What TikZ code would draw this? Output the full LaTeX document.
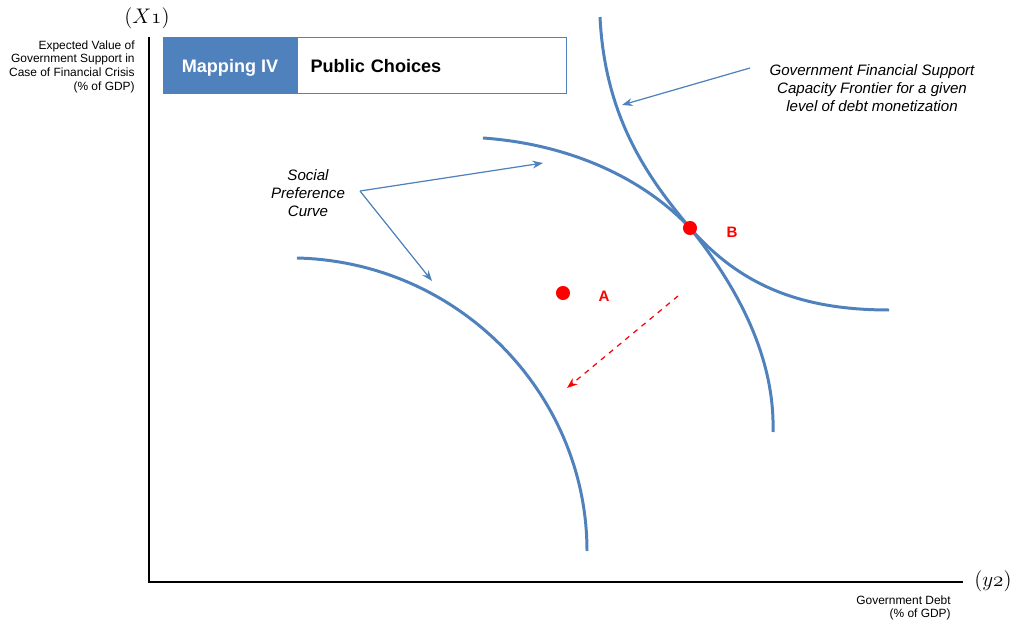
\documentclass[tikz,border=0pt]{standalone}
\usepackage{fontspec}
\setsansfont{Liberation Sans}
\usetikzlibrary{arrows.meta}
\definecolor{curveblue}{RGB}{79,129,189}

\begin{document}
\begin{tikzpicture}[x=0.02cm,y=-0.02cm,
  curve/.style={curveblue,line width=1.7pt},
  pointer/.style={curveblue,line width=0.7pt,-{Stealth[length=6pt,width=4.5pt]}},
  dot/.style={circle,fill=red,inner sep=0pt,minimum size=8pt},
  dotlabel/.style={text=red,font=\sffamily\bfseries\fontsize{8.6}{10}\selectfont},
  note/.style={font=\sffamily\itshape\fontsize{8.6}{10.2}\selectfont,align=center},
  axislabel/.style={font=\sffamily\fontsize{6.8}{7.9}\selectfont,align=right,inner sep=0pt},
  varlabel/.style={font=\fontsize{12.5}{14}\selectfont}]

\useasboundingbox (0,0) rectangle (1017,624);

% axes
\coordinate (ytop) at (149,37);
\coordinate (O) at (149,582);
\coordinate (xend) at (963,582);
\draw[line width=1.3pt] (ytop) -- (O) -- (xend);

\node[varlabel] (x1) at (147,18) {$(\mathnormal{X}\mathnormal{1})$};
\node[varlabel] (y2) at (993,581) {$(\mathnormal{y}\mathnormal{2})$};

\node[axislabel,anchor=north east] (ylab) at (135,40)
  {Expected Value of\\Government Support in\\Case of Financial Crisis\\(\% of GDP)};
\node[axislabel,anchor=north east] (xlab) at (951,595) {Government Debt\\(\% of GDP)};

% title box
\node[fill=curveblue,draw=curveblue,line width=0.6pt,anchor=north west,
  minimum width=2.66cm,minimum height=1.12cm,text=white,text depth=0pt,
  font=\sffamily\bfseries\fontsize{10.3}{12}\selectfont] (map) at (163,37) {Mapping IV};
\node[draw=curveblue,line width=0.6pt,anchor=west,minimum height=1.12cm,
  inner xsep=0.26cm,text width=4.86cm,align=left,text depth=0pt,
  font=\sffamily\bfseries\fontsize{10.3}{12}\selectfont] (choice) at (map.east) {Public Choices};

% curves
\coordinate (Bc) at (690,228);
\draw[curve] (297,258) .. controls (460,262) and (587,395) .. (587,551);
\draw[curve] (483,138) .. controls (580,145) and (650,185) .. (Bc)
  .. controls (740,285) and (800,310) .. (889,310);
\draw[curve] (600,17) .. controls (605,120) and (650,180) .. (Bc)
  .. controls (740,290) and (775,360) .. (773,432);

% points
\node[dot] (A) at (563,293) {};
\node[dot] (B) at (Bc) {};
\node[dotlabel] (Alab) at (604,296) {A};
\node[dotlabel] (Blab) at (732,232) {B};

% labels and pointers
\node[note] (front) at (872,88)
  {Government Financial Support\\Capacity Frontier for a given\\level of debt monetization};
\node[note] (social) at (308,193) {Social\\Preference\\Curve};

\coordinate (fstart) at (750,68);
\coordinate (ftip) at (622,105);
\coordinate (sstart) at (360,191);
\coordinate (stip1) at (543,163);
\coordinate (stip2) at (432,281);
\draw[pointer] (fstart) -- (ftip);
\draw[pointer] (sstart) -- (stip1);
\draw[pointer] (sstart) -- (stip2);

% move from B
\coordinate (mstart) at (678,296);
\coordinate (mend) at (567,388);
\draw[red,line width=0.7pt,dashed,-{Stealth[length=6pt,width=4.5pt]}] (mstart) -- (mend);

\end{tikzpicture}
\end{document}
